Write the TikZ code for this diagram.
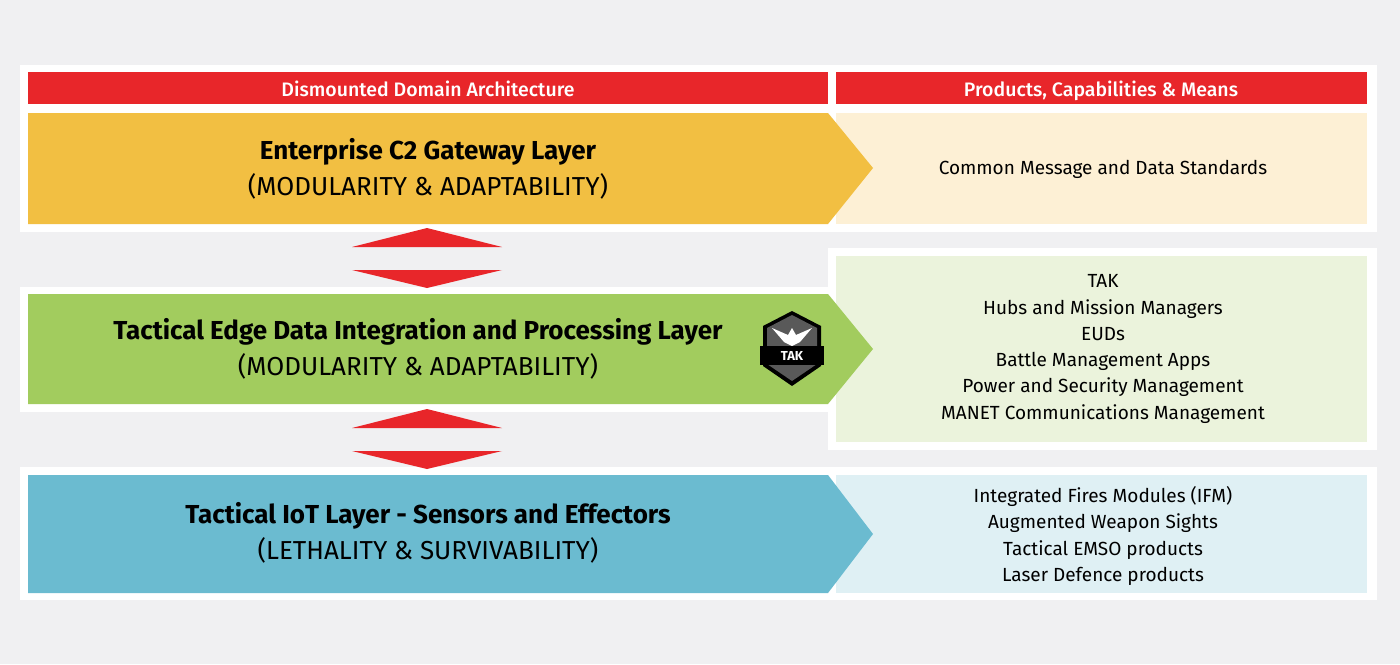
\documentclass[tikz,border=0pt]{standalone}
\usepackage{fontspec}
\setmainfont{Fira Sans}
\newfontfamily\medfont{Fira Sans Medium}
\definecolor{bgGray}{HTML}{F0F0F2}
\definecolor{hdrRed}{HTML}{E8262A}
\definecolor{layOrange}{HTML}{F2BF42}
\definecolor{layGreen}{HTML}{A2CC5E}
\definecolor{layBlue}{HTML}{6BBBD0}
\definecolor{paleOrange}{HTML}{FDF0D5}
\definecolor{paleGreen}{HTML}{EBF3DC}
\definecolor{paleBlue}{HTML}{DFF0F4}
\tikzset{
  hdr/.style={font=\fontsize{19.5}{20}\medfont, text=white, anchor=base},
  ttl/.style={font=\fontsize{26}{36}\selectfont, align=center},
  prod/.style={font=\fontsize{19}{26.3}\selectfont, align=center}
}
\begin{document}
\begin{tikzpicture}[x=1pt,y=-1pt]
    \fill[bgGray](0,0) rectangle (1400,664);
    % white bands
    \fill[white](20,65) rectangle (1377,232);
    \fill[white](20,287) rectangle (835,412);
    \fill[white](828,248) rectangle (1377,450);
    \fill[white](20,467) rectangle (1377,600);

    % headers
    \fill[hdrRed](28,72) rectangle (828,104);
    \fill[hdrRed](836,72) rectangle (1367,104);
    \node[hdr] (hArch) at (428,96) {Dismounted Domain Architecture};
    \node[hdr] (hProd) at (1101,96) {Products, Capabilities \& Means};

    % product boxes
    \fill[paleOrange](836,113) rectangle (1367,224);
    \fill[paleGreen](836,256) rectangle (1367,442);
    \fill[paleBlue](836,475) rectangle (1367,593);

    % layer arrows
    \fill[layOrange](28,113) -- (828,113) -- (873,168) -- (828,224) -- (28,224) -- cycle;
    \fill[layGreen](28,294) -- (828,294) -- (873,349) -- (828,404) -- (28,404) -- cycle;
    \fill[layBlue](28,475) -- (828,475) -- (873,534) -- (828,593) -- (28,593) -- cycle;

    \node[ttl] (lGateway) at (428,169) {\textbf{Enterprise C2 Gateway Layer}\\(MODULARITY \& ADAPTABILITY)};
    \node[ttl] (lEdge) at (418,349) {\textbf{Tactical Edge Data Integration and Processing Layer}\\(MODULARITY \& ADAPTABILITY)};
    \node[ttl] (lIoT) at (428,533) {\textbf{Tactical IoT Layer - Sensors and Effectors}\\(LETHALITY \& SURVIVABILITY)};

    \node[prod] (pGateway) at (1103,169) {Common Message and Data Standards};
    \node[prod] (pEdge) at (1103,349) {TAK\\Hubs and Mission Managers\\EUDs\\Battle Management Apps\\Power and Security Management\\MANET Communications Management};
    \node[prod] (pIoT) at (1103,536) {Integrated Fires Modules (IFM)\\Augmented Weapon Sights\\Tactical EMSO products\\Laser Defence products};

    % double arrows between layers
    \foreach \y in {0,181}{
        \fill[hdrRed](352,247+\y) -- (427,228+\y) -- (502,247+\y) -- cycle;
        \fill[hdrRed](352,270+\y) -- (502,270+\y) -- (427,288+\y) -- cycle;
    }

    % TAK badge
    \fill[black](792,311) -- (763,326) -- (763,366) -- (792,386) -- (821,366) -- (821,326) -- cycle;
    \fill[black!65](792,315) -- (767,328) -- (767,364) -- (792,381) -- (817,364) -- (817,328) -- cycle;
    \fill[white](772,328) -- (788,335) -- (792,328) -- (796,335) -- (812,328) -- (800,342) -- (792,346) -- (784,342) -- cycle;
    \fill[black](760,346) rectangle (824,365);
    \node[text=white, font=\fontsize{13}{13}\selectfont\bfseries] (tak) at (792,356) {TAK};
\end{tikzpicture}
\end{document}
